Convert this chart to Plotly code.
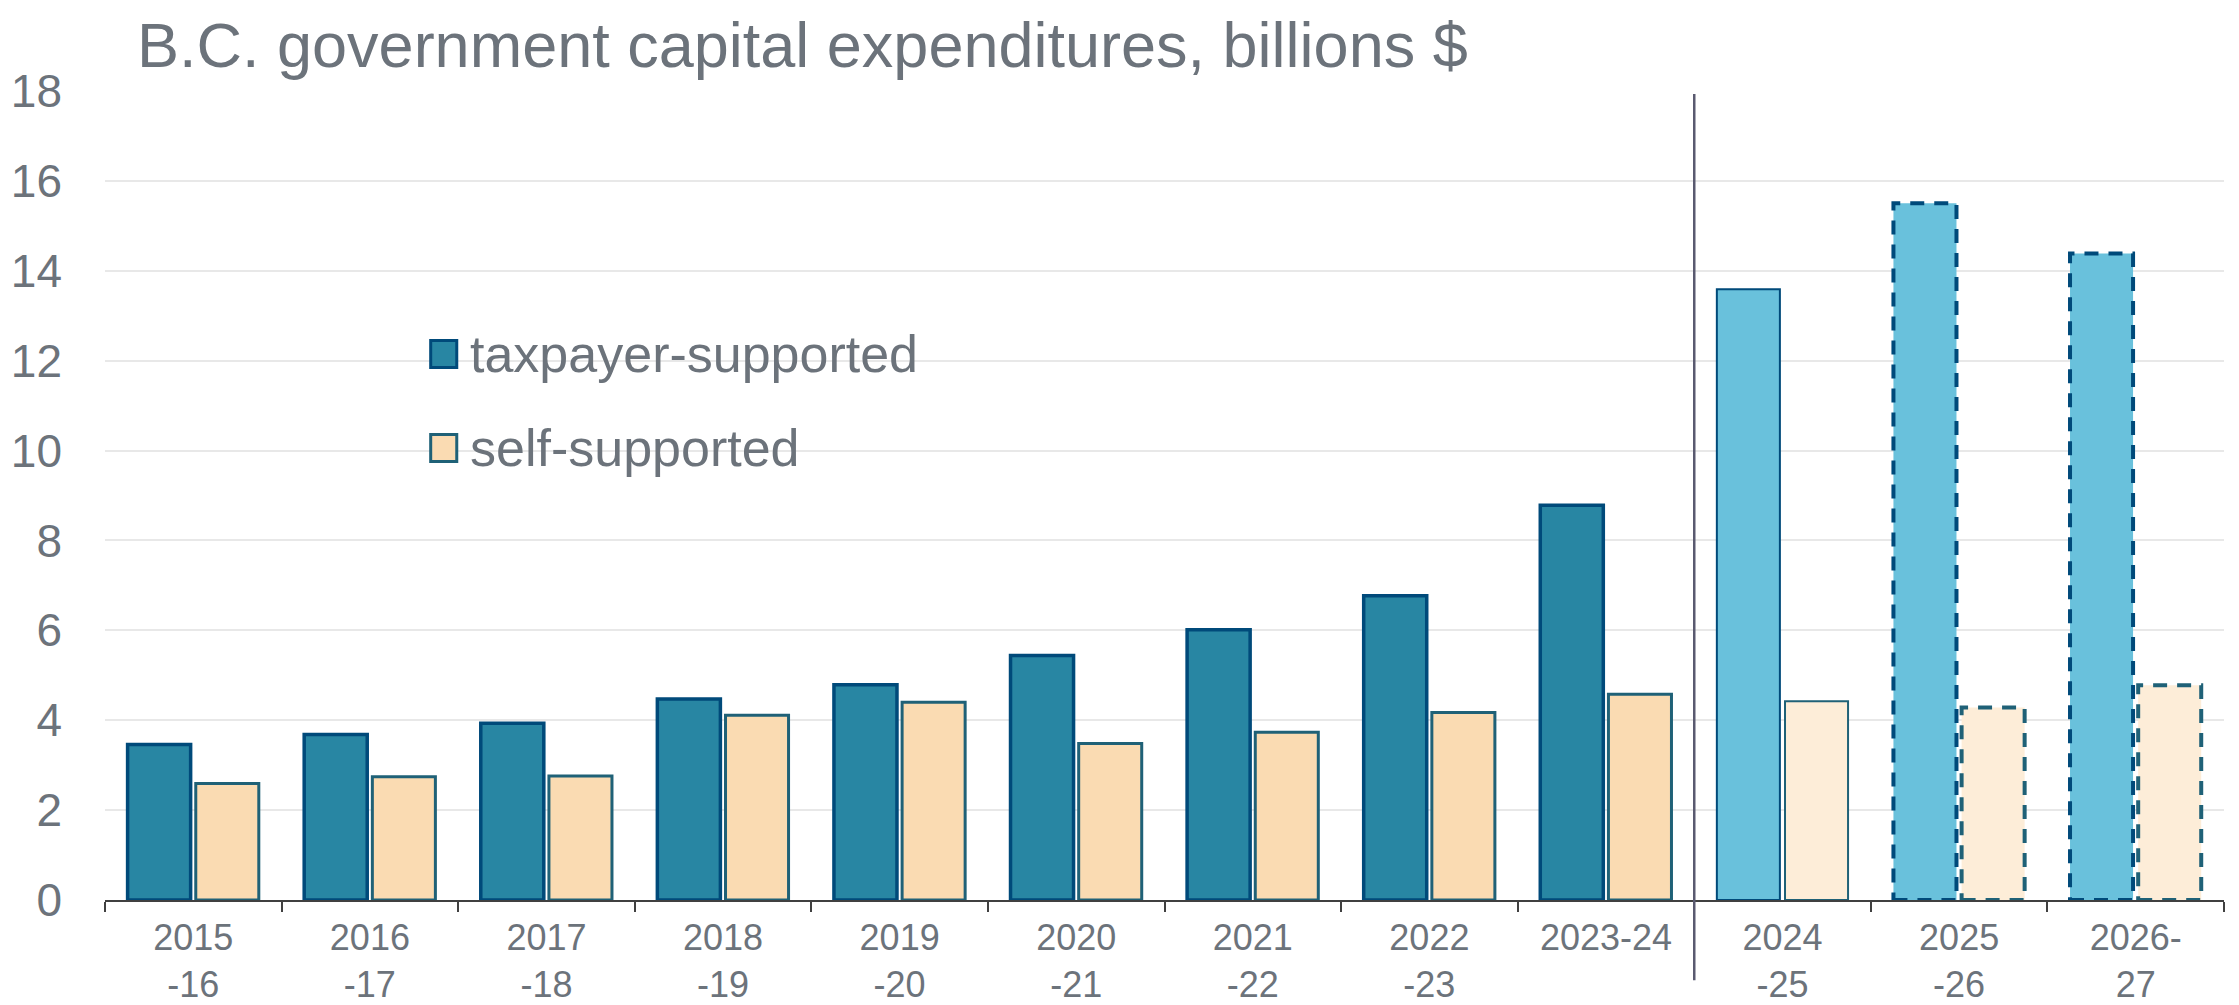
import plotly.graph_objects as go

# ---------------- data ----------------
categories = ["2015<br>-16", "2016<br>-17", "2017<br>-18", "2018<br>-19", "2019<br>-20",
              "2020<br>-21", "2021<br>-22", "2022<br>-23", "2023-24",
              "2024<br>-25", "2025<br>-26", "2026-<br>27"]
taxpayer = [3.46, 3.68, 3.93, 4.47, 4.79, 5.44, 6.01, 6.77, 8.78, 13.59, 15.50, 14.38]
self_supported = [2.59, 2.74, 2.76, 4.11, 4.40, 3.48, 3.73, 4.17, 4.58, 4.42, 4.28, 4.78]
# status of each year: actual, budget (solid light), plan (dashed light)
status = ["actual"] * 9 + ["budget", "plan", "plan"]
y_ticks = [0, 2, 4, 6, 8, 10, 12, 14, 16, 18]
title_text = "B.C. government capital expenditures, billions $"
legend_names = ["taxpayer-supported", "self-supported"]

# ---------------- style ----------------
GREY = "rgb(108,115,123)"
TAX_DARK_FILL = "#2886A3"
TAX_LIGHT_FILL = "#69C1DC"
TAX_LINE = "#004A7A"
SELF_DARK_FILL = "#FADBB2"
SELF_LIGHT_FILL = "#FDEDD8"
SELF_LINE = "#1F6177"
FONT = "Liberation Sans, Arial, sans-serif"

# page body has an 8px default margin -> figure is 8px smaller than the window
FIG_W, FIG_H = 2231, 997

W_BAR = 0.357
OFF_TAX = -0.372
OFF_SELF = 0.014

tax_fill = [TAX_DARK_FILL if s == "actual" else TAX_LIGHT_FILL for s in status]
self_fill = [SELF_DARK_FILL if s == "actual" else SELF_LIGHT_FILL for s in status]
tax_lw = [3.5 if s == "actual" else (2 if s == "budget" else 0) for s in status]
self_lw = [3 if s == "actual" else (2 if s == "budget" else 0) for s in status]

fig = go.Figure()
fig.add_trace(go.Bar(
    x=categories, y=taxpayer, name=legend_names[0], showlegend=False,
    offset=OFF_TAX, width=W_BAR,
    marker=dict(color=tax_fill, line=dict(color=TAX_LINE, width=tax_lw)),
))
fig.add_trace(go.Bar(
    x=categories, y=self_supported, name=legend_names[1], showlegend=False,
    offset=OFF_SELF, width=W_BAR,
    marker=dict(color=self_fill, line=dict(color=SELF_LINE, width=self_lw)),
))

# dashed outlines for planned years (bar outlines in Plotly cannot be dashed)
shapes = []
for i, s in enumerate(status):
    if s == "plan":
        shapes.append(dict(type="rect", xref="x", yref="y",
                           x0=i + OFF_TAX, x1=i + OFF_TAX + W_BAR, y0=0, y1=taxpayer[i],
                           line=dict(color=TAX_LINE, width=4, dash="14px,10px"),
                           fillcolor="rgba(0,0,0,0)", layer="above"))
        shapes.append(dict(type="rect", xref="x", yref="y",
                           x0=i + OFF_SELF, x1=i + OFF_SELF + W_BAR, y0=0, y1=self_supported[i],
                           line=dict(color=SELF_LINE, width=4, dash="14px,10px"),
                           fillcolor="rgba(0,0,0,0)", layer="above"))

# separator between actuals and budget years
first_budget = status.index("budget")
shapes.append(dict(type="line", xref="x", yref="paper",
                   x0=first_budget - 0.5, x1=first_budget - 0.5, y0=-0.099, y1=0.995,
                   line=dict(color="#5A5A70", width=2.5), layer="above"))

# manual legend (larger swatches than Plotly's fixed legend symbols)
legend_y = [0.674, 0.558]
legend_fill = [TAX_DARK_FILL, SELF_DARK_FILL]
legend_line = [TAX_LINE, SELF_LINE]
annotations = []
for k in range(2):
    shapes.append(dict(type="rect", xref="paper", yref="paper",
                       x0=0.1537, x1=0.1660, y0=legend_y[k] - 0.0167, y1=legend_y[k] + 0.0167,
                       line=dict(color=legend_line[k], width=3), fillcolor=legend_fill[k]))
    annotations.append(dict(xref="paper", yref="paper", x=0.1715, y=legend_y[k],
                            xanchor="left", yanchor="middle", showarrow=False,
                            text=legend_names[k], font=dict(size=52, color=GREY, family=FONT)))

fig.update_layout(
    width=FIG_W, height=FIG_H,
    margin=dict(l=97, r=15, t=82, b=105),
    paper_bgcolor="white", plot_bgcolor="white",
    barmode="group",
    font=dict(family=FONT, color=GREY),
    title=dict(text=title_text, x=129 / FIG_W, xref="container", xanchor="left",
               y=1 - 37 / FIG_H, yref="container", yanchor="middle",
               font=dict(size=63, color=GREY, family=FONT)),
    shapes=shapes,
    annotations=annotations,
    showlegend=False,
)
fig.update_xaxes(
    automargin=False,
    showline=True, linecolor="#404040", linewidth=2,
    ticks="outside", ticklen=10, tickwidth=2, tickcolor="#404040",
    tickson="boundaries", showgrid=False, ticklabelstandoff=5,
    tickfont=dict(size=36, color=GREY, family=FONT),
)
fig.update_yaxes(
    automargin=False,
    range=[0, 18.02], tickvals=y_ticks, showgrid=True, gridcolor="#E8E8E8", gridwidth=2,
    zeroline=False, showline=False, ticklabelstandoff=42,
    tickfont=dict(size=46, color=GREY, family=FONT),
)

fig.write_html("out.html")
